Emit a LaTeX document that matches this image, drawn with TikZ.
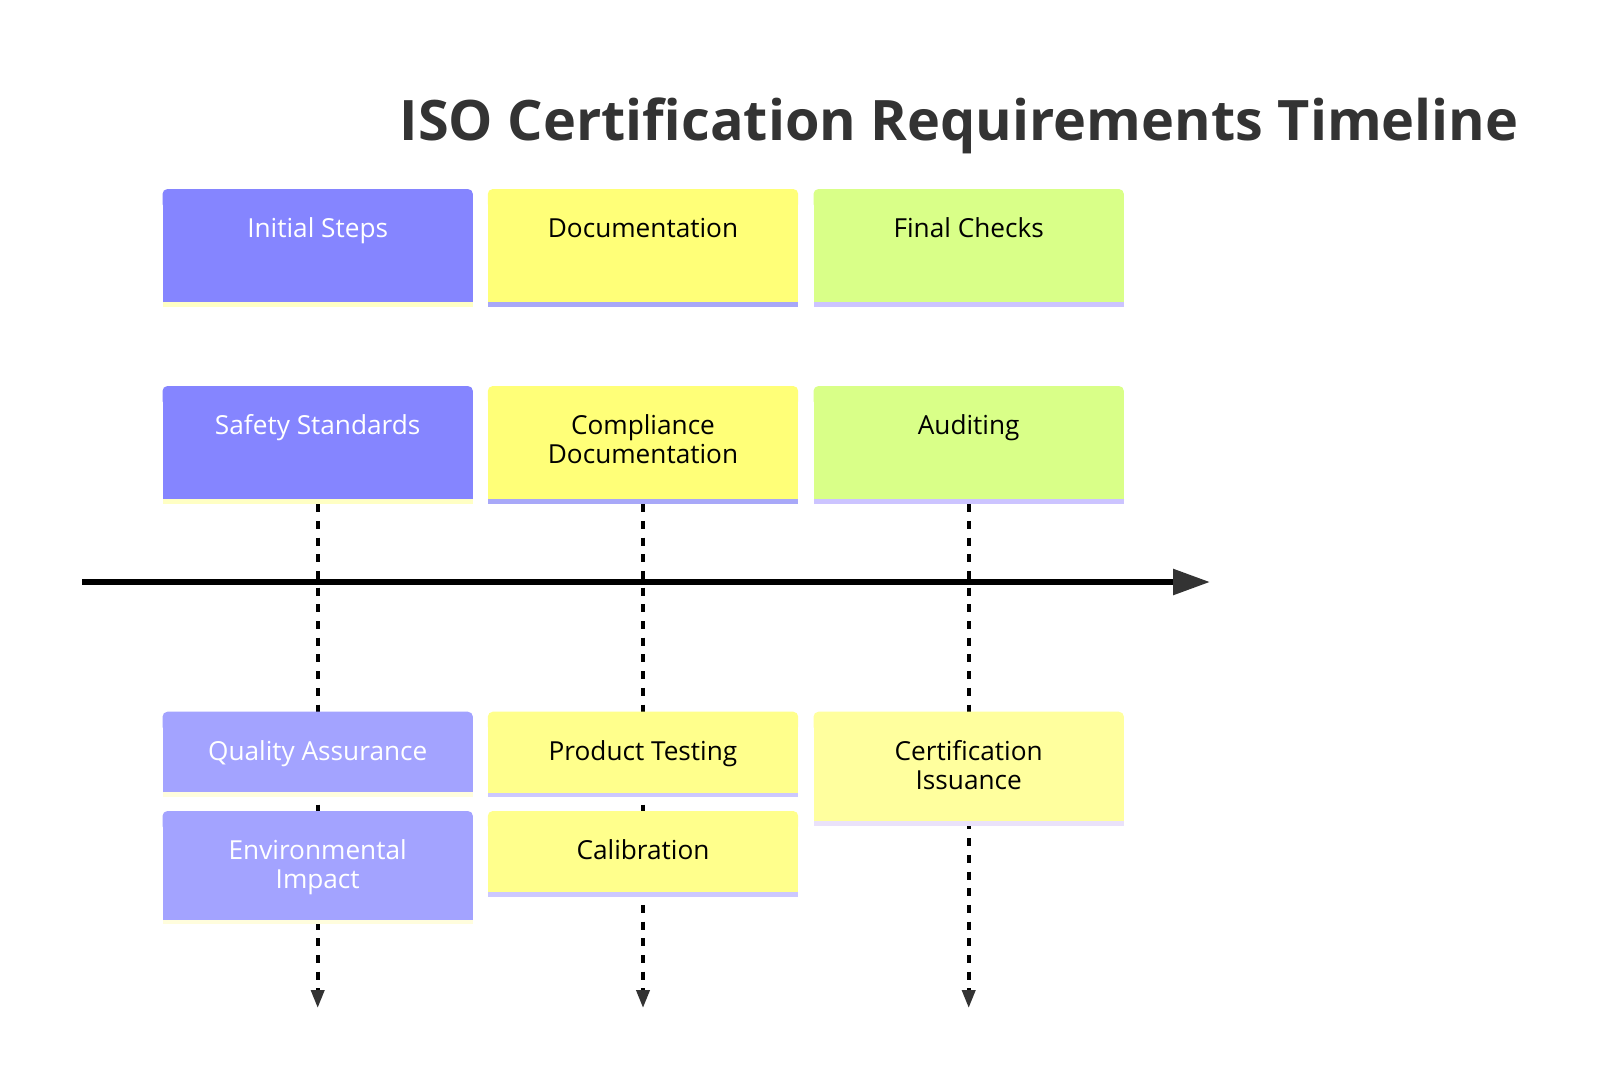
\documentclass[tikz,border=0pt]{standalone}
\usepackage{fontspec}
\setmainfont{Open Sans}
\usetikzlibrary{arrows.meta,calc}
\pgfdeclarelayer{bg}
\pgfsetlayers{bg,main}
\definecolor{ink}{HTML}{333333}
\definecolor{secA}{HTML}{8585FF}
\definecolor{taskA}{HTML}{A3A3FF}
\definecolor{strSecA}{HTML}{FFFFC4}
\definecolor{strTaskA}{HTML}{FFFDDD}
\definecolor{secB}{HTML}{FFFF78}
\definecolor{taskB}{HTML}{FFFF8C}
\definecolor{strSecB}{HTML}{A8A8F8}
\definecolor{strTaskB}{HTML}{CCC8FF}
\definecolor{secC}{HTML}{D9FF88}
\definecolor{taskC}{HTML}{FFFF9E}
\definecolor{strSecC}{HTML}{CCC4FF}
\definecolor{strTaskC}{HTML}{EAE2FA}
\tikzset{
  boxframe/.style={rectangle, minimum width=310pt, inner sep=0pt, draw=none},
  boxtext/.style={anchor=north, inner sep=0pt, align=center, font=\fontsize{26.2}{29}\selectfont},
  titletext/.style={anchor=base west, inner sep=0pt, text=ink, font=\bfseries\fontsize{55.8}{60}\selectfont},
  dashconn/.style={line width=3.8pt, black, dash pattern=on 8pt off 8.7pt, -{Triangle[length=18pt,width=13pt,color=ink]}},
  axisline/.style={line width=5.7pt, black, -{Triangle[length=37pt,width=25pt,color=ink]}}
}
% #1 name, #2 centre x, #3 top y, #4 fill height, #5 fill, #6 stripe, #7 text colour, #8 text
\newcommand\tlbox[8]{%
  \node[boxframe, minimum height=#4pt+4.7pt, anchor=north] (#1) at (#2,#3) {};
  \fill[#5, rounded corners=5pt] (#1.north west) rectangle ($(#1.north east)+(0,20)$);
  \fill[#5] ($(#1.north west)+(0,10)$) rectangle ($(#1.south east)+(0,-4.7)$);
  \fill[#6] ($(#1.south west)+(0,-4.7)$) rectangle (#1.south east);
  \node[boxtext, text=#7] (#1t) at ($(#1.north)+(0,24.3)$) {\rule{0pt}{24pt}#8};
}
\begin{document}
\begin{tikzpicture}[x=1pt, y=-1pt]
\begin{pgfonlayer}{bg}
\fill[white] (0,0) rectangle (1600,1088);
\end{pgfonlayer}
\useasboundingbox (0,0) rectangle (1600,1088);

\node[titletext] (title) at (399.5,140) {ISO Certification Requirements Timeline};

% sections
\tlbox{secI}{317.7}{189}{113}{secA}{strSecA}{white}{Initial Steps}
\tlbox{secD}{643}{189}{113}{secB}{strSecB}{black}{Documentation}
\tlbox{secF}{968.7}{189}{113}{secC}{strSecC}{black}{Final Checks}

\tlbox{ss}{317.7}{386}{113}{secA}{strSecA}{white}{Safety Standards}
\tlbox{cd}{643}{386}{113}{secB}{strSecB}{black}{Compliance\\Documentation}
\tlbox{au}{968.7}{386}{113}{secC}{strSecC}{black}{Auditing}

% events
\tlbox{qa}{317.7}{711.7}{80}{taskA}{strTaskA}{white}{Quality Assurance}
\tlbox{ei}{317.7}{811}{108.3}{taskA}{strTaskA}{white}{Environmental\\Impact}
\tlbox{pt}{643}{711.7}{80.6}{taskB}{strTaskB}{black}{Product Testing}
\tlbox{ca}{643}{811}{80.7}{taskB}{strTaskB}{black}{Calibration}
\tlbox{ci}{968.7}{711.7}{109.3}{taskC}{strTaskC}{black}{Certification\\Issuance}

% time axis
\coordinate (axL) at (82,582);
\coordinate (axR) at (1210,582);
\draw[axisline] (axL) -- (axR);

% dashed connectors
\coordinate (end1) at (317.7,1008);
\coordinate (end2) at (643,1008);
\coordinate (end3) at (968.7,1008);
\begin{pgfonlayer}{bg}
\draw[dashconn] (ss.south) -- (end1);
\draw[dashconn] (cd.south) -- (end2);
\draw[dashconn] (au.south) -- (end3);
\end{pgfonlayer}
\end{tikzpicture}
\end{document}
